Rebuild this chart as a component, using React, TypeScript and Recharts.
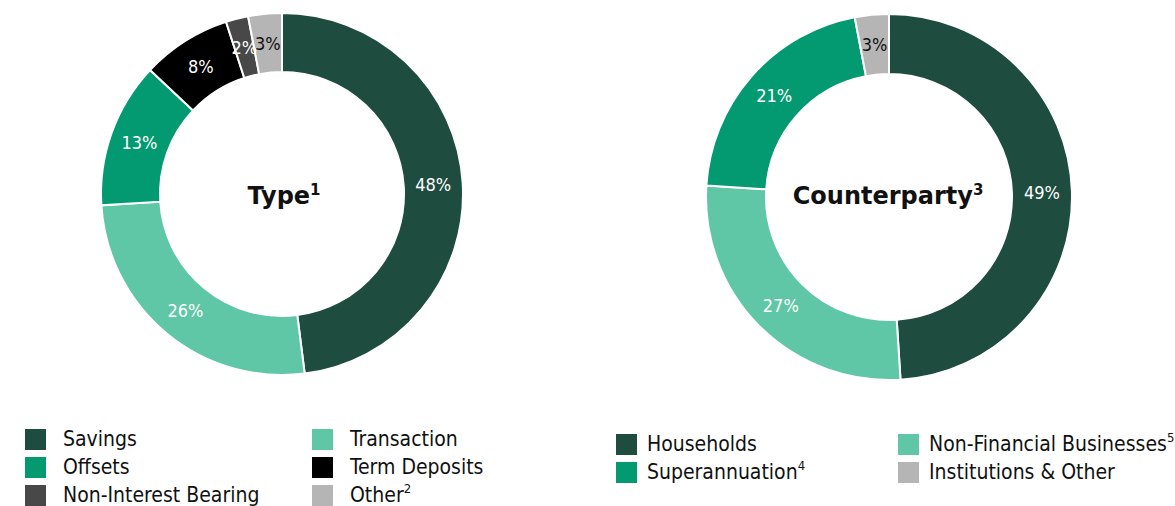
import { Cell, Pie, PieChart } from "recharts";

const typeNames = ["Savings", "Transaction", "Offsets", "Term Deposits", "Non-Interest Bearing", "Other"];
const typeNotes = ["", "", "", "", "", "2"];
const typeValues = [48, 26, 13, 8, 2, 3];
const typeColors = ["#1e4c3f", "#5fc7a6", "#039a72", "#000000", "#484848", "#b5b5b5"];
const typeLabelColors = ["#fff", "#fff", "#fff", "#fff", "#fff", "#111"];
const typeLegendCols = [
  [0, 2, 4],
  [1, 3, 5],
];

const cpNames = ["Households", "Non-Financial Businesses", "Superannuation", "Institutions & Other"];
const cpNotes = ["", "5", "4", ""];
const cpValues = [49, 27, 21, 3];
const cpColors = ["#1e4c3f", "#5fc7a6", "#039a72", "#b5b5b5"];
const cpLabelColors = ["#fff", "#fff", "#fff", "#111"];
const cpLegendCols = [
  [0, 2],
  [1, 3],
];

const RAD = Math.PI / 180;
const labelFont = "'DejaVu Sans Condensed', 'DejaVu Sans', sans-serif";
const titleFont = "'DejaVu Sans', sans-serif";

function makeLabel(colors: string[]) {
  return (props: any) => {
    const { cx, cy, midAngle, innerRadius, outerRadius, value, index } = props;
    const r = (innerRadius + outerRadius) / 2;
    const x = cx + r * Math.cos(-midAngle * RAD);
    const y = cy + r * Math.sin(-midAngle * RAD);
    return (
      <text
        x={x}
        y={y}
        fill={colors[index]}
        textAnchor="middle"
        dominantBaseline="central"
        fontFamily={labelFont}
        fontStretch="condensed"
        fontSize={18}
      >
        {value}%
      </text>
    );
  };
}

function Title({ x, y, text, note }: { x: number; y: number; text: string; note: string }) {
  return (
    <div
      style={{
        position: "absolute",
        left: x - 150,
        top: y - 18,
        width: 300,
        textAlign: "center",
        fontFamily: titleFont,
        fontWeight: 700,
        fontSize: 24,
        lineHeight: "36px",
        color: "#111",
      }}
    >
      {text}
      <sup style={{ fontSize: 15, verticalAlign: 0, position: "relative", top: -9 }}>{note}</sup>
    </div>
  );
}

function LegendBlock({
  x,
  y,
  colGap,
  cols,
  names,
  notes,
  colors,
  textOffset,
}: {
  x: number;
  y: number;
  colGap: number;
  cols: number[][];
  names: string[];
  notes: string[];
  colors: string[];
  textOffset: number;
}) {
  return (
    <>
      {cols.map((col, ci) =>
        col.map((idx, ri) => (
          <div
            key={`${ci}-${ri}`}
            style={{
              position: "absolute",
              left: x + ci * colGap,
              top: y + ri * 28,
              height: 28,
              display: "flex",
              alignItems: "center",
              whiteSpace: "nowrap",
            }}
          >
            <span style={{ width: 21, height: 21, background: colors[idx], display: "inline-block" }} />
            <span
              style={{
                marginLeft: textOffset - 21,
                fontFamily: labelFont,
                fontStretch: "condensed",
                fontSize: 21,
                color: "#111",
              }}
            >
              {names[idx]}
              {notes[idx] && (
                <sup style={{ fontSize: 13, verticalAlign: 0, position: "relative", top: -9 }}>{notes[idx]}</sup>
              )}
            </span>
          </div>
        ))
      )}
    </>
  );
}

export default function App() {
  const typeData = typeNames.map((name, i) => ({ name, value: typeValues[i] }));
  const cpData = cpNames.map((name, i) => ({ name, value: cpValues[i] }));

  return (
    <div style={{ position: "absolute", left: 0, top: 0, width: 1175, height: 506, background: "#fff" }}>
      <PieChart width={1175} height={506} margin={{ top: 0, right: 0, bottom: 0, left: 0 }}>
        <Pie
          data={typeData}
          dataKey="value"
          cx={282}
          cy={194}
          innerRadius={122}
          outerRadius={181}
          startAngle={90}
          endAngle={-270}
          stroke="#fff"
          strokeWidth={2}
          label={makeLabel(typeLabelColors)}
          labelLine={false}
          isAnimationActive={false}
        >
          {typeData.map((d, i) => (
            <Cell key={d.name} fill={typeColors[i]} />
          ))}
        </Pie>
        <Pie
          data={cpData}
          dataKey="value"
          cx={889}
          cy={197}
          innerRadius={123}
          outerRadius={183}
          startAngle={90}
          endAngle={-270}
          stroke="#fff"
          strokeWidth={2}
          label={makeLabel(cpLabelColors)}
          labelLine={false}
          isAnimationActive={false}
        >
          {cpData.map((d, i) => (
            <Cell key={d.name} fill={cpColors[i]} />
          ))}
        </Pie>
      </PieChart>
      <Title x={284} y={196} text="Type" note="1" />
      <Title x={888} y={196} text="Counterparty" note="3" />
      <LegendBlock
        x={25}
        y={425}
        colGap={287}
        cols={typeLegendCols}
        names={typeNames}
        notes={typeNotes}
        colors={typeColors}
        textOffset={38}
      />
      <LegendBlock
        x={616}
        y={430}
        colGap={282}
        cols={cpLegendCols}
        names={cpNames}
        notes={cpNotes}
        colors={cpColors}
        textOffset={31}
      />
    </div>
  );
}
